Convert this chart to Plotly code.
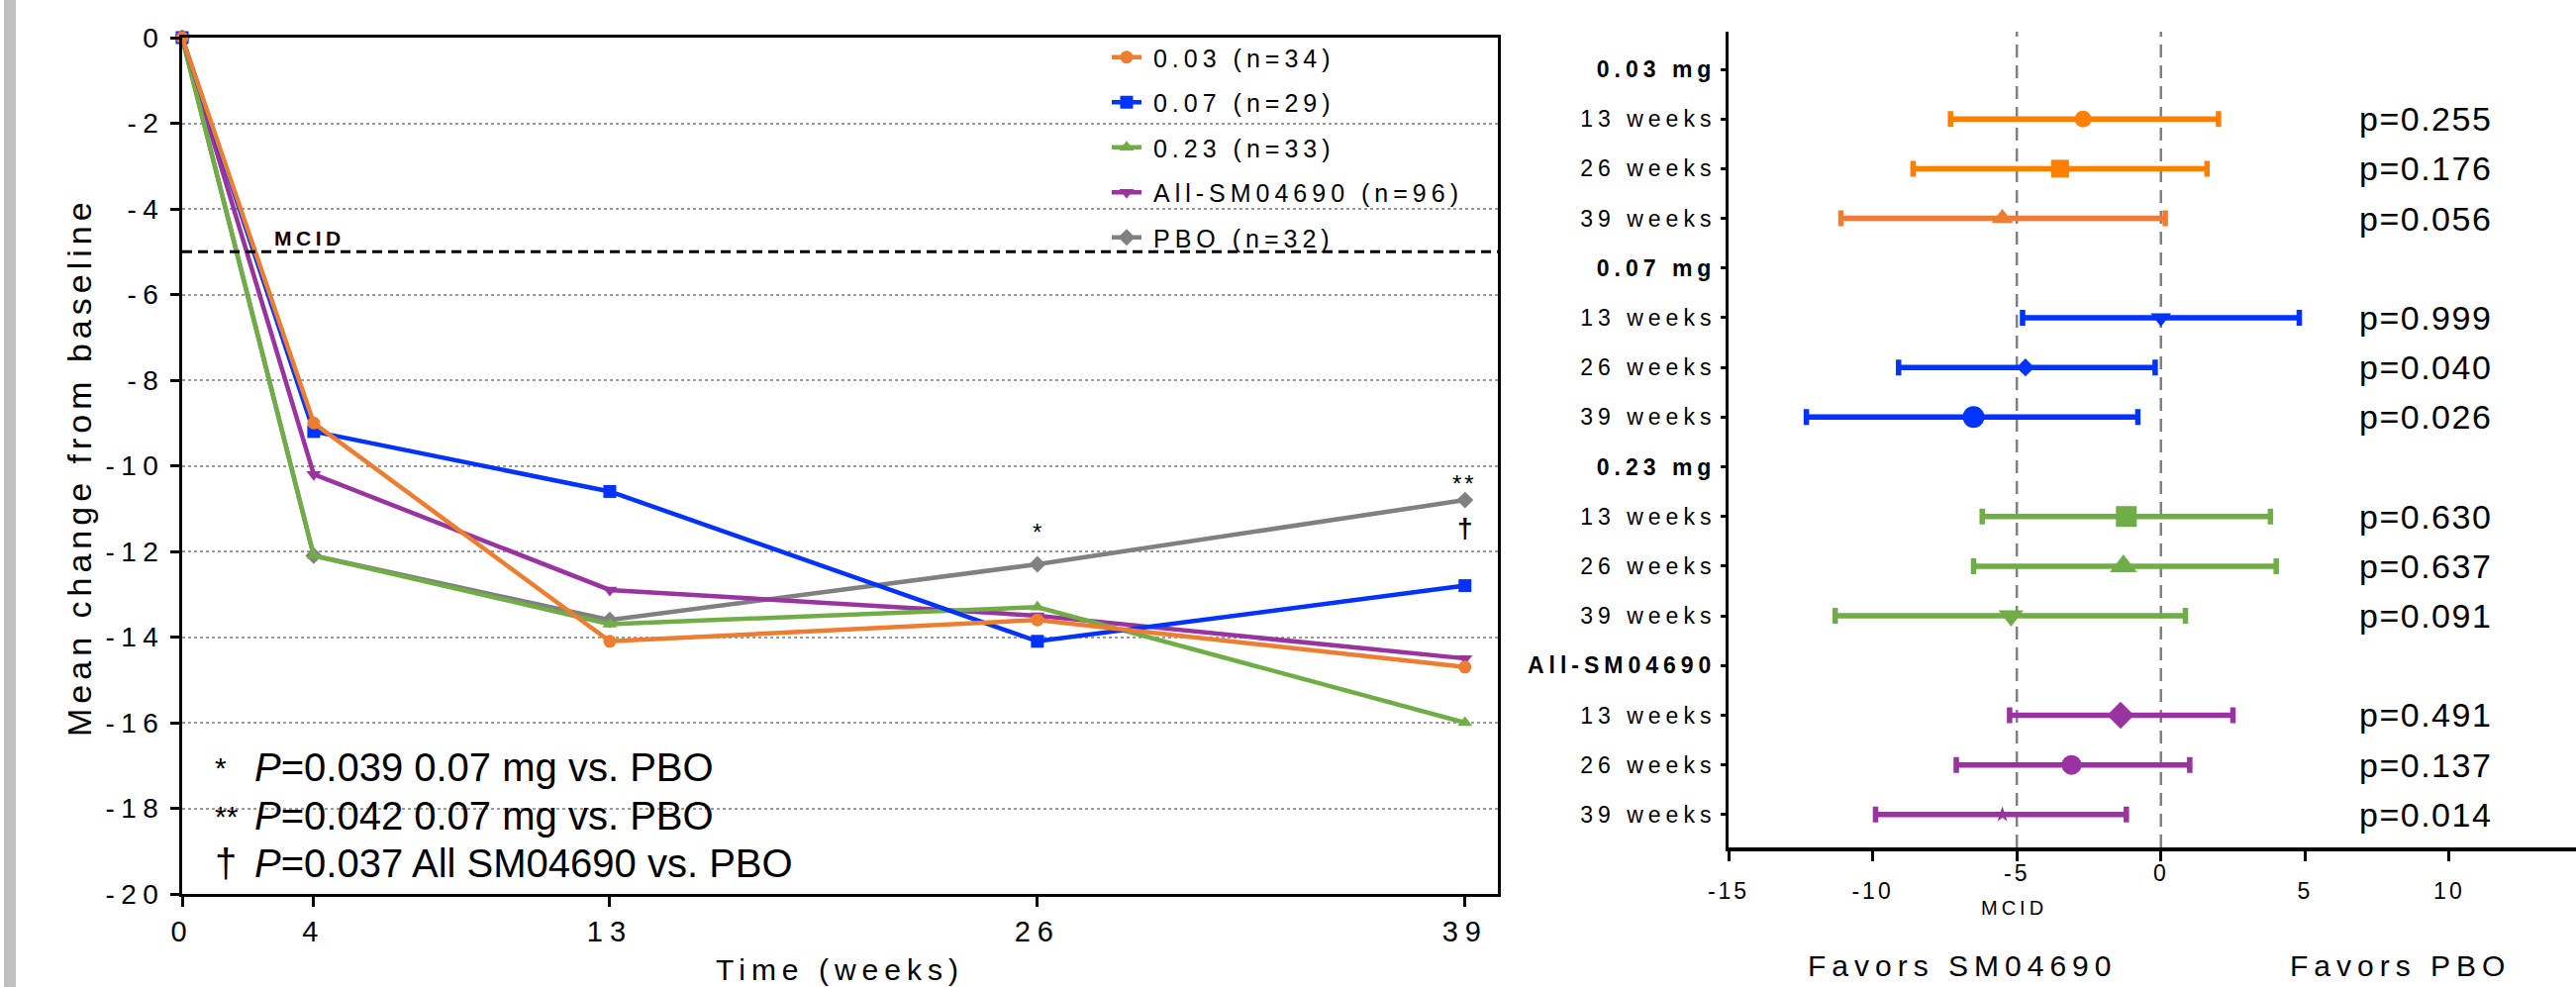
import plotly.graph_objects as go

W, H = 2602, 997

# ---------------- Left chart data ----------------
weeks = [0, 4, 13, 26, 39]
series_names = ["0.03 (n=34)", "0.07 (n=29)", "0.23 (n=33)", "All-SM04690 (n=96)", "PBO (n=32)"]
dose_003 = [0, -9.0, -14.1, -13.6, -14.7]
dose_007 = [0, -9.2, -10.6, -14.1, -12.8]
dose_023 = [0, -12.1, -13.7, -13.3, -16.0]
all_sm = [0, -10.2, -12.9, -13.5, -14.5]
pbo = [0, -12.1, -13.6, -12.3, -10.8]
series_colors = ["#ED7D31", "#0033FF", "#70AD47", "#9933A0", "#808080"]
series_symbols = ["circle", "square", "triangle-up", "triangle-down", "diamond"]

x_ticks = [0, 4, 13, 26, 39]
y_ticks = [0, -2, -4, -6, -8, -10, -12, -14, -16, -18, -20]
mcid = -5

footnote_marks = ["*", "**", "†"]
footnote_texts = ["<i>P</i>=0.039 0.07 mg vs. PBO",
                  "<i>P</i>=0.042 0.07 mg vs. PBO",
                  "<i>P</i>=0.037 All SM04690 vs. PBO"]
footnote_y = [-17.05, -18.18, -19.29]

# ---------------- Forest plot data ----------------
forest_labels = ["0.03 mg", "13 weeks", "26 weeks", "39 weeks",
                 "0.07 mg", "13 weeks", "26 weeks", "39 weeks",
                 "0.23 mg", "13 weeks", "26 weeks", "39 weeks",
                 "All-SM04690", "13 weeks", "26 weeks", "39 weeks"]
forest_header = [True, False, False, False] * 4
forest_est = [None, -2.7, -3.5, -5.5, None, 0.0, -4.7, -6.5,
              None, -1.2, -1.3, -5.2, None, -1.4, -3.1, -5.5]
forest_lo = [None, -7.3, -8.6, -11.1, None, -4.8, -9.1, -12.3,
             None, -6.2, -6.5, -11.3, None, -5.25, -7.1, -9.9]
forest_hi = [None, 2.0, 1.6, 0.15, None, 4.8, -0.2, -0.8,
             None, 3.8, 4.0, 0.85, None, 2.5, 1.0, -1.2]
forest_p = [None, "p=0.255", "p=0.176", "p=0.056", None, "p=0.999", "p=0.040", "p=0.026",
            None, "p=0.630", "p=0.637", "p=0.091", None, "p=0.491", "p=0.137", "p=0.014"]
forest_colors = [None, "#FF8000", "#FF8000", "#ED7D31", None, "#0033FF", "#0033FF", "#0033FF",
                 None, "#70AD47", "#70AD47", "#70AD47", None, "#9933A0", "#9933A0", "#9933A0"]
forest_symbols = [None, "circle", "square", "triangle-up", None, "triangle-down", "diamond", "circle",
                  None, "square", "triangle-up", "triangle-down", None, "diamond", "circle", "star"]
forest_sizes = [None, 17, 18, 19, None, 18, 14, 22, None, 21, 24, 22, None, 21, 20, 12]
forest_xticks = [-15, -10, -5, 0, 5, 10, 15]
forest_raised_ticks = [-5, 0]
reference_lines = [-5, 0]


def sp(text, px):
    return f"<span style='letter-spacing:{px}px'>{text}</span>"


FONT = "Liberation Sans, Arial, sans-serif"

fig = go.Figure()

# Left chart traces (drawn bottom->top), legend ranked in original order
draw_order = [4, 3, 2, 1, 0]
all_series = [dose_003, dose_007, dose_023, all_sm, pbo]
for k in draw_order:
    fig.add_trace(go.Scatter(
        x=weeks, y=all_series[k], mode="lines+markers",
        name="&nbsp;" + sp(series_names[k], 5), legendgroup=f"g{k}", legendrank=k + 1,
        line=dict(color=series_colors[k], width=4.5),
        marker=dict(symbol=series_symbols[k], size=13, color=series_colors[k]),
        cliponaxis=False, xaxis="x", yaxis="y",
    ))

# Forest traces
for i, lab in enumerate(forest_labels):
    if forest_header[i]:
        continue
    est = forest_est[i]
    fig.add_trace(go.Scatter(
        x=[est], y=[i], mode="markers", showlegend=False,
        marker=dict(symbol=forest_symbols[i], size=forest_sizes[i], color=forest_colors[i]),
        error_x=dict(type="data", symmetric=False,
                     array=[forest_hi[i] - est], arrayminus=[est - forest_lo[i]],
                     color=forest_colors[i], thickness=5.5, width=8),
        xaxis="x2", yaxis="y2", cliponaxis=False,
    ))

# Axes
y_ticktext = [sp(str(v), 6.5) for v in y_ticks]
x_ticktext = [sp(str(v), 7) for v in x_ticks]
forest_ticktext = []
for i, lab in enumerate(forest_labels):
    t = sp(lab, 5)
    forest_ticktext.append(f"<b>{t}</b>" if forest_header[i] else t)
fx_ticktext = ["" if v in forest_raised_ticks else sp(str(v), 3) for v in forest_xticks]

fig.update_layout(
    width=W, height=H, autosize=False,
    margin=dict(l=0, r=0, t=0, b=0),
    paper_bgcolor="white", plot_bgcolor="white",
    font=dict(family=FONT, color="black"),
    showlegend=True,
    legend=dict(x=1118 / W, y=1 - 35 / H, xanchor="left", yanchor="top",
                bgcolor="rgba(0,0,0,0)", font=dict(size=25, family=FONT),
                traceorder="grouped", tracegroupgap=10, itemwidth=30),
    xaxis=dict(domain=[184 / W, 1513 / W], range=[0, 40], anchor="y",
               tickmode="array", tickvals=x_ticks, ticktext=x_ticktext,
               ticks="outside", ticklen=10, tickwidth=3, tickcolor="black",
               showline=True, linecolor="black", linewidth=3, mirror=True,
               showgrid=False, zeroline=False, automargin=False,
               tickfont=dict(size=29), ticklabelstandoff=0),
    yaxis=dict(domain=[1 - 903 / H, 1 - 38 / H], range=[-20, 0], anchor="x",
               tickmode="array", tickvals=y_ticks, ticktext=y_ticktext,
               ticks="outside", ticklen=9, tickwidth=3, tickcolor="black",
               showline=True, linecolor="black", linewidth=3, mirror=True,
               showgrid=True, gridcolor="#9a9a9a", griddash="dot", gridwidth=1.5,
               zeroline=False, automargin=False, tickfont=dict(size=28)),
    xaxis2=dict(domain=[1746 / W, 1.0], range=[-15, 14.4], anchor="y2",
                tickmode="array", tickvals=forest_xticks, ticktext=fx_ticktext,
                ticks="outside", ticklen=10, tickwidth=3, tickcolor="black",
                showline=True, linecolor="black", linewidth=4,
                showgrid=False, zeroline=False, automargin=False,
                tickfont=dict(size=23), ticklabelstandoff=10),
    yaxis2=dict(domain=[1 - 856 / H, 1 - 32 / H], range=[15.66, -0.757], anchor="x2",
                tickmode="array", tickvals=list(range(len(forest_labels))), ticktext=forest_ticktext,
                ticks="outside", ticklen=5, tickwidth=3, tickcolor="black",
                showline=True, linecolor="black", linewidth=3,
                showgrid=False, zeroline=False, automargin=False,
                tickfont=dict(size=23), ticklabelstandoff=0),
)

shapes = [
    dict(type="rect", xref="paper", yref="paper", x0=4 / W, x1=16 / W, y0=0, y1=1,
         fillcolor="#C0C0C0", line=dict(width=0), layer="below"),
    dict(type="line", xref="x", yref="y", x0=0, x1=40, y0=mcid, y1=mcid,
         line=dict(color="black", width=3, dash="10px,6px")),
]
for v in reference_lines:
    shapes.append(dict(type="line", xref="x2", yref="y2 domain", x0=v, x1=v, y0=0, y1=1,
                       line=dict(color="#808080", width=2.5, dash="13px,8px"), layer="below"))
fig.update_layout(shapes=shapes)


def A(**kw):
    kw.setdefault("showarrow", False)
    kw.setdefault("xanchor", "center")
    kw.setdefault("yanchor", "middle")
    return kw


ann = []
# axis titles
ann.append(A(x=80 / W, y=1 - 472 / H, xref="paper", yref="paper",
             text=sp("Mean change from baseline", 5), textangle=-90, font=dict(size=34)))
ann.append(A(x=848 / W, y=1 - 979 / H, xref="paper", yref="paper",
             text=sp("Time (weeks)", 6), font=dict(size=30)))
ann.append(A(x=3.88, y=-4.69, xref="x", yref="y", text=f"<b>{sp('MCID', 4.5)}</b>", font=dict(size=21)))
ann.append(A(x=26, y=-11.56, xref="x", yref="y", text="*", font=dict(size=24)))
ann.append(A(x=39, y=-10.41, xref="x", yref="y", text=sp("**", 3), font=dict(size=24)))
ann.append(A(x=39, y=-11.45, xref="x", yref="y", text="<b>†</b>", font=dict(size=28)))
for m, t, yv in zip(footnote_marks, footnote_texts, footnote_y):
    ann.append(A(x=0.93, y=yv, xref="x", yref="y", text=m, xanchor="left",
                 font=dict(size=30 if m != "†" else 40)))
    ann.append(A(x=2.15, y=yv, xref="x", yref="y", text=t, xanchor="left", font=dict(size=40)))
# Forest p-values
for i, p in enumerate(forest_p):
    if p is None:
        continue
    ann.append(A(x=2381 / W, y=i, xref="paper", yref="y2", text=sp(p, 1.5), xanchor="left",
                 font=dict(size=34)))
# raised tick labels
for v in forest_raised_ticks:
    ann.append(A(x=v, y=1 - 882 / H, xref="x2", yref="paper", text=sp(str(v), 3), font=dict(size=23)))
ann.append(A(x=-5.1, y=1 - 917 / H, xref="x2", yref="paper", text=sp("MCID", 4), font=dict(size=20)))
ann.append(A(x=1982 / W, y=1 - 975 / H, xref="paper", yref="paper",
             text=sp("Favors SM04690", 6), font=dict(size=30)))
ann.append(A(x=2424 / W, y=1 - 975 / H, xref="paper", yref="paper",
             text=sp("Favors PBO", 6), font=dict(size=30)))
fig.update_layout(annotations=ann)

fig.write_html("out.html", config={"displayModeBar": False},
               post_script="document.body.style.margin='0px';document.body.style.overflow='hidden';")
